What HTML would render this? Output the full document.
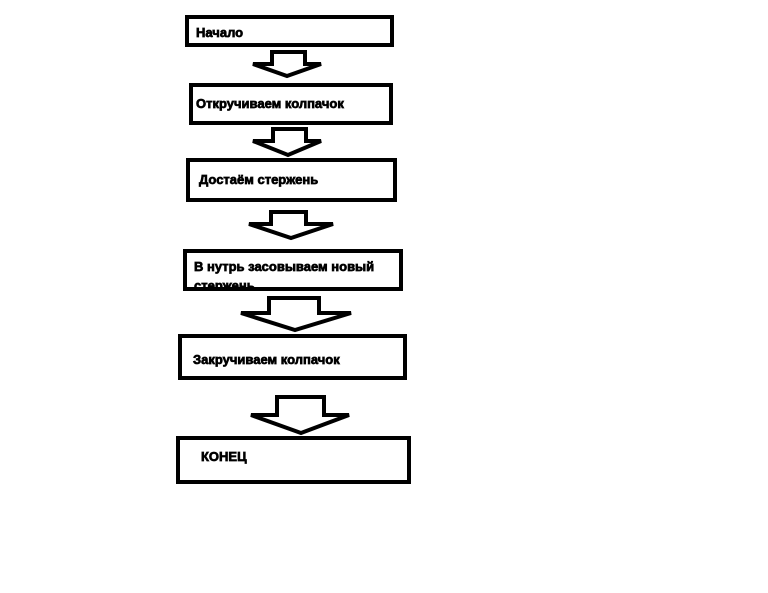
<!DOCTYPE html>
<html><head><meta charset="utf-8"><style>
html,body{margin:0;padding:0;background:#fff;width:768px;height:593px;overflow:hidden}
text{font-family:"Liberation Sans",sans-serif;font-weight:bold;font-size:13px;fill:#000;stroke:#000;stroke-width:0.7}
</style></head><body>
<svg width="768" height="593" viewBox="0 0 768 593" xmlns="http://www.w3.org/2000/svg">
<defs><clipPath id="c4"><rect x="185" y="251" width="216" height="36"/></clipPath></defs>
<g fill="#fff" stroke="#000" stroke-width="4">
<rect x="187" y="17" width="205" height="28"/>
<rect x="191" y="85" width="200" height="38"/>
<rect x="188" y="160" width="207" height="40"/>
<rect x="185" y="251" width="216" height="38"/>
<rect x="180" y="336" width="225" height="42"/>
<rect x="178" y="438" width="231" height="44"/>
</g>
<g fill="#fff" stroke="#000" stroke-width="4" stroke-linejoin="miter">
<polygon points="272,52 305,52 305,64 321,64 287,76 253,64 272,64"/>
<polygon points="273,129 306,129 306,141 321,141 288,155 253,141 273,141"/>
<polygon points="271,212 306,212 306,224 333,224 291,238 249,224 271,224"/>
<polygon points="269,298 319,298 319,313 351,313 295,330 241,313 269,313"/>
<polygon points="277,397 324,397 324,415 349,415 301,433 251,415 277,415"/>
</g>
<text x="196" y="37">Начало</text>
<text x="196" y="108">Откручиваем колпачок</text>
<text x="199" y="184">Достаём стержень</text>
<g clip-path="url(#c4)"><text x="194" y="271">В нутрь засовываем новый</text><text x="194" y="290">стержень</text></g>
<text x="193" y="364">Закручиваем колпачок</text>
<text x="201" y="461">КОНЕЦ</text>
</svg>
</body></html>
